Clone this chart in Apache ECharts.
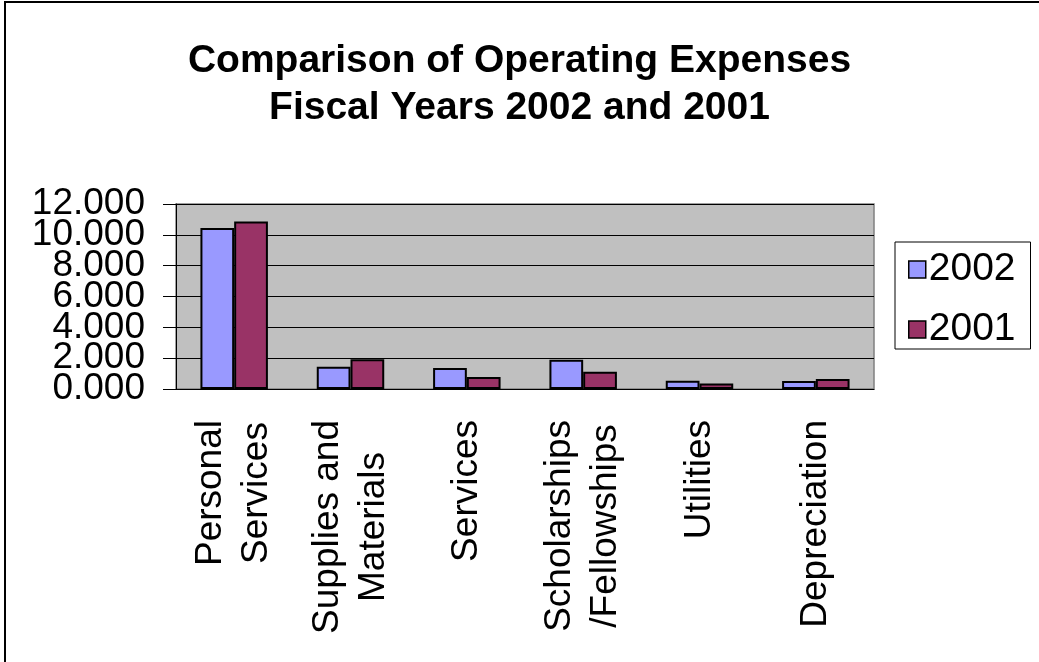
<!DOCTYPE html>
<html>
<head>
<meta charset="utf-8">
<script src="https://cdn.jsdelivr.net/npm/echarts@6/dist/echarts.min.js"></script>
<style>
  html, body { margin: 0; padding: 0; background: #fff; }
  #chart { width: 1039px; height: 662px; }
</style>
</head>
<body>
<div id="chart"></div>
<script>
const categories = ['Personal\nServices', 'Supplies and\nMaterials', 'Services', 'Scholarships\n/Fellowships', 'Utilities', 'Depreciation'];
const values2002 = [10440, 1450, 1365, 1905, 540, 520];
const values2001 = [10870, 1930, 780, 1125, 350, 650];
const yTicks = { min: 0, max: 12000, step: 2000 };

const font = "'Liberation Sans', Arial, sans-serif";

// labels overlap a bit (as in the original), so they are split over two left axes
// to stop echarts from dropping the neighbours of the min/max label
const fmtY = v => (v / 1000).toFixed(3);
const evenLabel = v => (v % (yTicks.step * 2) === 0 ? fmtY(v) : '');
const oddLabel = v => (v % (yTicks.step * 2) !== 0 ? fmtY(v) : '');

const yLabelStyle = {
    margin: 31,
    color: '#000',
    fontFamily: font,
    fontSize: 37
};

const option = {
    animation: false,
    backgroundColor: '#fff',
    title: {
        text: 'Comparison of Operating Expenses\nFiscal Years 2002 and 2001',
        left: 'center',
        top: 38,
        padding: 0,
        textStyle: {
            fontFamily: font,
            fontSize: 39,
            fontWeight: 'bold',
            lineHeight: 47,
            color: '#000'
        }
    },
    legend: {
        orient: 'vertical',
        left: 895,
        top: 242,
        padding: [8, 15, 0, 13],
        itemGap: 21,
        itemWidth: 17,
        itemHeight: 17,
        borderColor: '#000',
        borderWidth: 1,
        icon: 'rect',
        itemStyle: { borderColor: '#000', borderWidth: 1.5 },
        textStyle: { fontFamily: font, fontSize: 39, lineHeight: 34, color: '#000', padding: [0, 0, 0, -2] },
        data: ['2002', '2001']
    },
    grid: {
        left: 176,
        right: 165,
        top: 204,
        bottom: 273,
        show: true,
        backgroundColor: '#C0C0C0',
        borderColor: '#808080',
        borderWidth: 1.5
    },
    xAxis: {
        type: 'category',
        data: categories,
        axisLine: { lineStyle: { color: '#000', width: 1 } },
        axisTick: { length: 11, lineStyle: { color: '#555' } },
        axisLabel: {
            interval: 0,
            rotate: 90,
            margin: 31,
            color: '#000',
            fontFamily: font,
            fontSize: 37,
            lineHeight: 46,
            formatter: v => v.split('\n').map(s => '{c|' + s + '}').join('\n'),
            rich: {
                c: { align: 'center', fontFamily: font, fontSize: 37, lineHeight: 46, color: '#000' }
            }
        }
    },
    yAxis: [
        {
            type: 'value',
            min: yTicks.min,
            max: yTicks.max,
            interval: yTicks.step,
            axisLine: { show: true, lineStyle: { color: '#000', width: 1 } },
            axisTick: { show: true, length: 13, lineStyle: { color: '#000' } },
            splitLine: { lineStyle: { color: '#000', width: 1 } },
            axisLabel: Object.assign({}, yLabelStyle, {
                showMinLabel: true,
                showMaxLabel: true,
                formatter: evenLabel
            })
        },
        {
            type: 'value',
            position: 'left',
            min: yTicks.min,
            max: yTicks.max,
            interval: yTicks.step,
            axisLine: { show: false },
            axisTick: { show: false },
            splitLine: { show: false },
            axisLabel: Object.assign({}, yLabelStyle, {
                showMinLabel: false,
                showMaxLabel: false,
                formatter: oddLabel
            })
        }
    ],
    series: [
        {
            name: '2002',
            type: 'bar',
            data: values2002,
            barGap: '0%',
            barCategoryGap: '42%',
            itemStyle: { color: '#9999FF', borderColor: '#000', borderWidth: 2 }
        },
        {
            name: '2001',
            type: 'bar',
            data: values2001,
            itemStyle: { color: '#993366', borderColor: '#000', borderWidth: 2 }
        }
    ],
    graphic: [
        {
            type: 'rect',
            shape: { x: 5, y: 2, width: 1200, height: 800 },
            style: { fill: 'none', stroke: '#000', lineWidth: 2 },
            silent: true
        }
    ]
};

const chart = echarts.init(document.getElementById('chart'));
chart.setOption(option);
</script>
</body>
</html>
